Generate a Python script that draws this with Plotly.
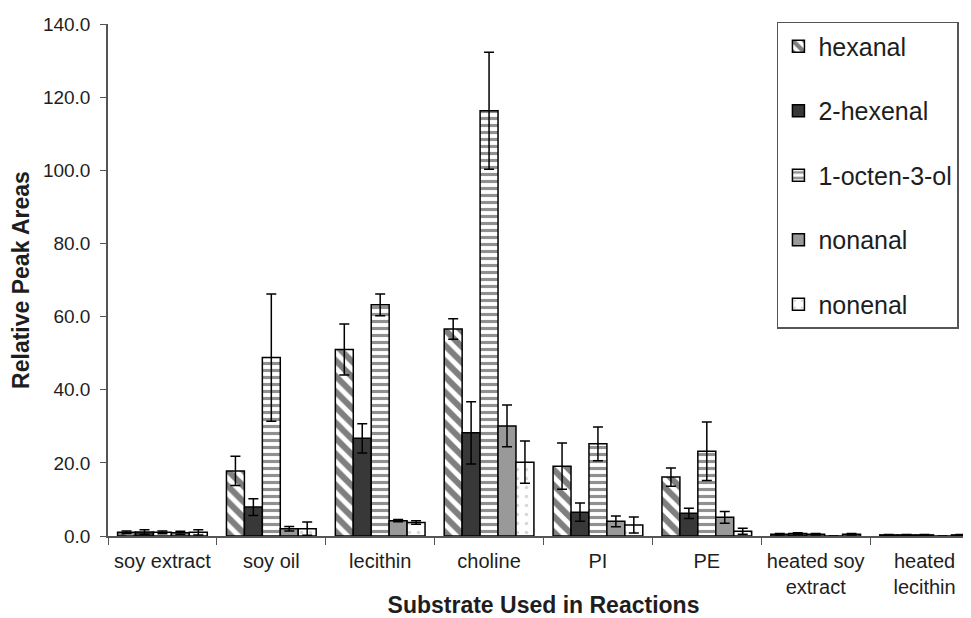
import plotly.graph_objects as go

categories = ["soy extract", "soy oil", "lecithin", "choline", "PI", "PE",
              "heated soy<br>extract", "heated<br>lecithin"]

hexanal = [1.0, 17.8, 51.0, 56.6, 19.1, 16.1, 0.5, 0.3]
hexanal_err = [0.4, 4.0, 7.0, 2.8, 6.3, 2.5, 0.2, 0.1]
hexenal = [1.1, 7.9, 26.7, 28.2, 6.5, 6.2, 0.7, 0.3]
hexenal_err = [0.6, 2.3, 4.0, 8.5, 2.5, 1.4, 0.2, 0.1]
octenol = [1.0, 48.8, 63.2, 116.3, 25.2, 23.2, 0.5, 0.3]
octenol_err = [0.4, 17.4, 3.0, 16.0, 4.6, 8.0, 0.2, 0.1]
nonanal = [0.9, 2.0, 4.2, 30.1, 4.0, 5.1, 0.0, 0.0]
nonanal_err = [0.4, 0.6, 0.3, 5.7, 1.5, 1.6, 0.0, 0.0]
nonenal = [1.0, 2.0, 3.7, 20.2, 3.0, 1.3, 0.5, 0.3]
nonenal_err = [0.7, 1.8, 0.5, 5.8, 2.2, 0.8, 0.2, 0.1]

series = [
    ("hexanal", hexanal, hexanal_err,
     dict(color="white", line=dict(color="black", width=1.5),
          pattern=dict(shape="\\", fgcolor="black", bgcolor="white", size=11, solidity=0.55))),
    ("2-hexenal", hexenal, hexenal_err,
     dict(color="#383838", line=dict(color="black", width=1.5))),
    ("1-octen-3-ol", octenol, octenol_err,
     dict(color="white", line=dict(color="black", width=1.5),
          pattern=dict(shape="-", fgcolor="#222222", bgcolor="white", size=7, solidity=0.45))),
    ("nonanal", nonanal, nonanal_err,
     dict(color="#999999", line=dict(color="black", width=1.5))),
    ("nonenal", nonenal, nonenal_err,
     dict(color="white", line=dict(color="black", width=1.5),
          pattern=dict(shape=".", fgcolor="#b0b0b0", bgcolor="white", size=9, solidity=0.12))),
]

fig = go.Figure()
for i, (name, vals, errs, marker) in enumerate(series):
    fig.add_trace(go.Bar(
        name=name, x=categories, y=vals, marker=marker,
        legendgroup=f"g{i}",
        error_y=dict(type="data", array=errs, visible=True, color="black",
                     thickness=1.5, width=5),
    ))

font_family = "Liberation Sans, Arial, sans-serif"
fig.update_layout(
    width=971, height=610,
    barmode="group", bargap=0.176, bargroupgap=0,
    plot_bgcolor="white", paper_bgcolor="white",
    margin=dict(l=100, r=0, t=16, b=82, autoexpand=False),
    font=dict(family=font_family, size=19, color="#1e1e1e"),
    showlegend=True,
    legend=dict(
        x=0.768, y=1.004, xanchor="left", yanchor="top",
        bgcolor="white", bordercolor="#555555", borderwidth=1.5,
        font=dict(size=25, color="#1e1e1e"),
        tracegroupgap=29, traceorder="grouped",
        itemwidth=30, maxheight=600,
    ),
    xaxis=dict(
        range=[-0.5, 7.5],
        showline=True, linecolor="#555555", linewidth=1.5,
        ticks="outside", tickson="boundaries", ticklen=7, tickcolor="#555555",
        tickfont=dict(size=20), ticklabelstandoff=6,
        title=dict(text="<b>Substrate Used in Reactions</b>", font=dict(size=23), standoff=4),
    ),
    yaxis=dict(
        range=[0, 140], dtick=20, tickformat=".1f",
        showline=True, linecolor="#555555", linewidth=1.5,
        ticks="outside", ticklen=6, tickcolor="#555555",
        showgrid=False, zeroline=False,
        tickfont=dict(size=19), ticklabelstandoff=6,
        title=dict(text="<b>Relative Peak Areas</b>", font=dict(size=23), standoff=8),
    ),
)

fig.write_html("out.html")
